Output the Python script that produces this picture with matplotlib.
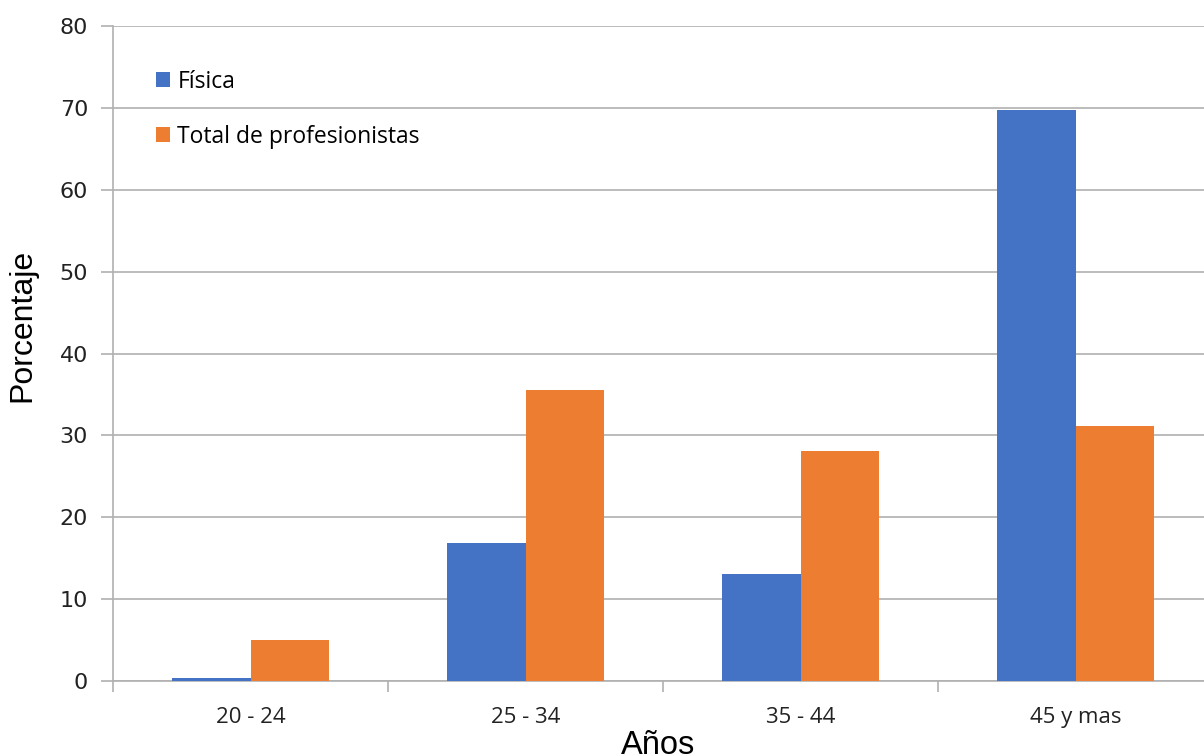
import matplotlib.pyplot as plt
import numpy as np

# Data
categorias = ['20 - 24', '25 - 34', '35 - 44', '45 y mas']
fisica = [0.4, 16.8, 13.1, 69.7]
total_profesionistas = [5.0, 35.5, 28.1, 31.1]
y_ticks = [0, 10, 20, 30, 40, 50, 60, 70, 80]

azul = '#4472C4'
naranja = '#ED7D31'
gris = '#B0B0B0'

fig = plt.figure(figsize=(12.04, 7.55), dpi=100)
# axes run past the right edge, as in the reference
ax = fig.add_axes([113 / 1204, 74 / 755, (1204 - 113) / 1204, 655 / 755])

x = np.arange(len(categorias))
ancho = 0.287
ax.bar(x - ancho / 2, fisica, ancho, color=azul, label='Física', zorder=3)
ax.bar(x + ancho / 2, total_profesionistas, ancho, color=naranja,
       label='Total de profesionistas', zorder=3)

ax.set_yticks(y_ticks)
ax.yaxis.grid(True, color=gris, linewidth=1.2, zorder=0)

ax.set_xticks(x)
ax.set_xticklabels(categorias, fontfamily='Open Sans', fontsize=16)
# category separators (the last one falls outside the picture)
ax.set_xticks(np.arange(-0.5, len(categorias) - 1, 1.0), minor=True)
ax.tick_params(axis='x', which='major', length=0, pad=19, colors='#222222')
ax.tick_params(axis='x', which='minor', length=8, width=1.2, color=gris, direction='out')
ax.tick_params(axis='y', length=9, width=1.2, color=gris, pad=9,
               labelsize=16, labelcolor='#222222')
for lab in ax.get_yticklabels():
    lab.set_fontfamily('DejaVu Sans')

# limits set after the ticks so they are not widened
ax.set_xlim(-0.5, -0.5 + (1204 - 113) / 275.0)
ax.set_ylim(0, 80)

for s in ['top', 'right']:
    ax.spines[s].set_visible(False)
for s in ['left', 'bottom']:
    ax.spines[s].set_color(gris)
    ax.spines[s].set_linewidth(1.2)

ax.set_ylabel('Porcentaje', fontfamily='Liberation Sans', fontsize=23)
ax.yaxis.set_label_coords(22 / 1204, 1 - 325 / 755, transform=fig.transFigure)
ax.yaxis.label.set_va('center')
ax.set_xlabel('Años', fontfamily='Liberation Sans', fontsize=23.5)
ax.xaxis.set_label_coords(658 / 1204, 1 - 746 / 755, transform=fig.transFigure)
ax.xaxis.label.set_va('center')

ax.legend(loc='upper left', bbox_to_anchor=(0.039, 0.933), frameon=False,
          borderpad=0, borderaxespad=0,
          handlelength=0.65, handleheight=0.65, handletextpad=0.3,
          labelspacing=1.35, prop={'family': 'Open Sans', 'size': 16.5})

fig.savefig('out.png', dpi=100)
